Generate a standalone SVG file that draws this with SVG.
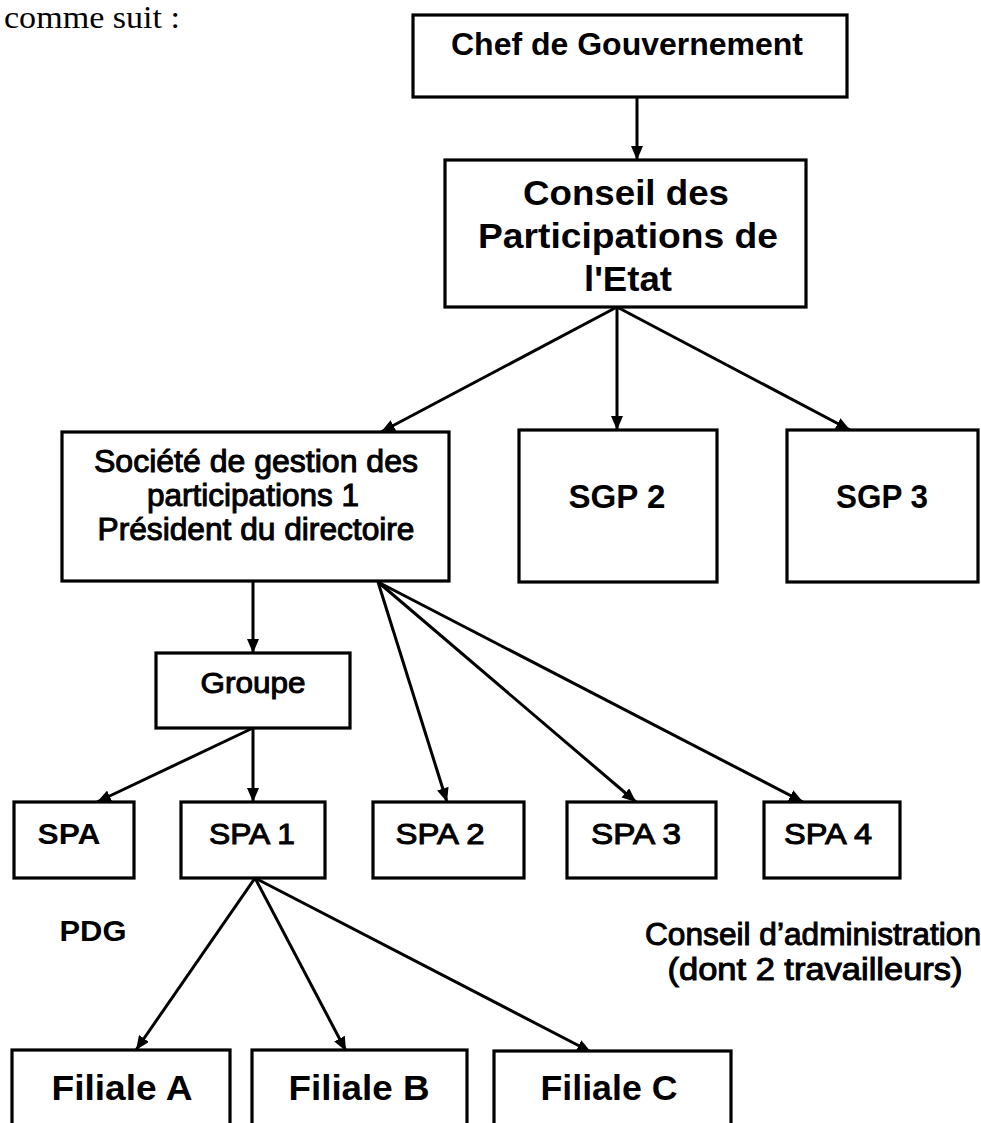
<svg xmlns="http://www.w3.org/2000/svg" width="981" height="1123" viewBox="0 0 981 1123">
<style>
  .box{fill:#fff;stroke:#000;stroke-width:3.2}
  .b{font-family:"Liberation Sans",Arial,sans-serif;font-weight:bold;fill:#000;text-anchor:middle}
  .m{font-family:"Liberation Sans",Arial,sans-serif;font-weight:normal;fill:#000;stroke:#000;stroke-width:1;text-anchor:middle}
  .edge{stroke:#000;stroke-width:3;fill:none;marker-end:url(#ah)}
</style>
<defs>
  <marker id="ah" viewBox="0 0 14 12" refX="14" refY="6" markerWidth="14" markerHeight="12" markerUnits="userSpaceOnUse" orient="auto">
    <path d="M0,0 L14,6 L0,12 Z" fill="#000"/>
  </marker>
</defs>
<rect width="981" height="1123" fill="#fff"/>
<text x="4" y="28" font-family="'Liberation Serif','Times New Roman',serif" font-size="31" textLength="176" lengthAdjust="spacingAndGlyphs" fill="#000">comme suit :</text>

<g id="connectors">
  <line class="edge" x1="637" y1="97" x2="637" y2="160"/>
  <line class="edge" x1="617" y1="307" x2="381" y2="432"/>
  <line class="edge" x1="617" y1="307" x2="617" y2="430"/>
  <line class="edge" x1="617" y1="307" x2="850" y2="430"/>
  <line class="edge" x1="253" y1="581" x2="253" y2="653"/>
  <line class="edge" x1="378" y1="582" x2="447" y2="802"/>
  <line class="edge" x1="378" y1="582" x2="636" y2="802"/>
  <line class="edge" x1="378" y1="582" x2="803" y2="802"/>
  <line class="edge" x1="253" y1="728" x2="97" y2="802"/>
  <line class="edge" x1="253" y1="728" x2="253" y2="802"/>
  <line class="edge" x1="255" y1="878" x2="136" y2="1050"/>
  <line class="edge" x1="255" y1="878" x2="346" y2="1051"/>
  <line class="edge" x1="255" y1="878" x2="591" y2="1052"/>
</g>

<g id="chef">
  <rect class="box" x="413" y="15" width="434" height="82"/>
  <text class="b" x="627" y="55" font-size="32" textLength="352" lengthAdjust="spacingAndGlyphs">Chef de Gouvernement</text>
</g>
<g id="conseil">
  <rect class="box" x="445" y="160" width="361" height="147"/>
  <text class="b" x="626" y="205" font-size="35" textLength="206" lengthAdjust="spacingAndGlyphs">Conseil des</text>
  <text class="b" x="628" y="248" font-size="35" textLength="300" lengthAdjust="spacingAndGlyphs">Participations de</text>
  <text class="b" x="628" y="291" font-size="35" textLength="88" lengthAdjust="spacingAndGlyphs">l'Etat</text>
</g>
<g id="sgp1">
  <rect class="box" x="62" y="432" width="387" height="149"/>
  <text class="m" x="256" y="472" font-size="31" textLength="324" lengthAdjust="spacingAndGlyphs">Société de gestion des</text>
  <text class="m" x="253" y="506" font-size="31" textLength="212" lengthAdjust="spacingAndGlyphs">participations 1</text>
  <text class="m" x="256" y="540" font-size="31" textLength="317" lengthAdjust="spacingAndGlyphs">Président du directoire</text>
</g>
<g id="sgp2">
  <rect class="box" x="519" y="430" width="198" height="152"/>
  <text class="b" x="617" y="508" font-size="34" textLength="97" lengthAdjust="spacingAndGlyphs">SGP 2</text>
</g>
<g id="sgp3">
  <rect class="box" x="787" y="430" width="191" height="152"/>
  <text class="b" x="882" y="508" font-size="34" textLength="92" lengthAdjust="spacingAndGlyphs">SGP 3</text>
</g>
<g id="groupe">
  <rect class="box" x="156" y="653" width="194" height="75"/>
  <text class="m" x="253" y="693" font-size="30" textLength="105" lengthAdjust="spacingAndGlyphs">Groupe</text>
</g>
<g id="spa">
  <rect class="box" x="14" y="802" width="120" height="76"/>
  <text class="b" x="69" y="844" font-size="30" textLength="63" lengthAdjust="spacingAndGlyphs">SPA</text>
</g>
<g id="spa1">
  <rect class="box" x="181" y="802" width="144" height="76"/>
  <text class="m" x="252" y="844" font-size="30" textLength="86" lengthAdjust="spacingAndGlyphs">SPA 1</text>
</g>
<g id="spa2">
  <rect class="box" x="373" y="802" width="151" height="76"/>
  <text class="m" x="440" y="844" font-size="30" textLength="89" lengthAdjust="spacingAndGlyphs">SPA 2</text>
</g>
<g id="spa3">
  <rect class="box" x="567" y="802" width="149" height="76"/>
  <text class="m" x="636" y="844" font-size="30" textLength="90" lengthAdjust="spacingAndGlyphs">SPA 3</text>
</g>
<g id="spa4">
  <rect class="box" x="764" y="802" width="136" height="76"/>
  <text class="m" x="828" y="844" font-size="30" textLength="88" lengthAdjust="spacingAndGlyphs">SPA 4</text>
</g>
<g id="pdg">
  <text class="b" x="93" y="941" font-size="30" textLength="67" lengthAdjust="spacingAndGlyphs">PDG</text>
</g>
<g id="conseil-admin">
  <text class="m" x="813" y="945" font-size="31" textLength="336" lengthAdjust="spacingAndGlyphs">Conseil d’administration</text>
  <text class="m" x="815" y="980" font-size="31" textLength="295" lengthAdjust="spacingAndGlyphs">(dont 2 travailleurs)</text>
</g>
<g id="filialeA">
  <rect class="box" x="12" y="1050" width="218" height="90"/>
  <text class="b" x="122" y="1100" font-size="35" textLength="141" lengthAdjust="spacingAndGlyphs">Filiale A</text>
</g>
<g id="filialeB">
  <rect class="box" x="252" y="1050" width="215" height="90"/>
  <text class="b" x="359" y="1100" font-size="35" textLength="141" lengthAdjust="spacingAndGlyphs">Filiale B</text>
</g>
<g id="filialeC">
  <rect class="box" x="494" y="1051" width="237" height="90"/>
  <text class="b" x="609" y="1100" font-size="35" textLength="137" lengthAdjust="spacingAndGlyphs">Filiale C</text>
</g>
</svg>
